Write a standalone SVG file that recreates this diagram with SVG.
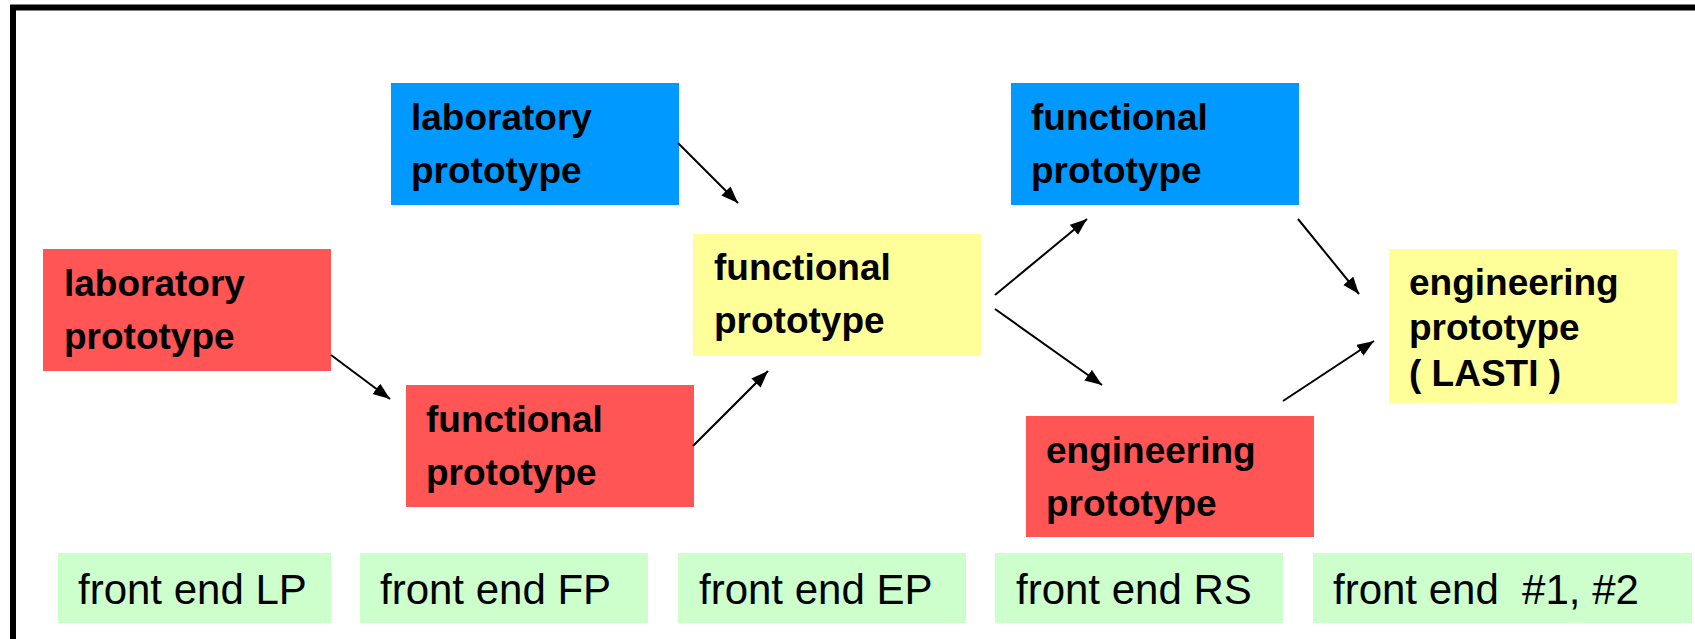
<svg xmlns="http://www.w3.org/2000/svg" width="1695" height="639" viewBox="0 0 1695 639">
<style>
.b{font-family:"Liberation Sans",Arial,sans-serif;font-weight:bold;font-size:37px;fill:#000}
.g{font-family:"Liberation Sans",Arial,sans-serif;font-size:42px;fill:#000;white-space:pre}
.blue{fill:#0099FF}.red{fill:#FF5555}.yel{fill:#FFFF99}.grn{fill:#CCFFCC}
.c{stroke:#000;stroke-width:2;fill:none;marker-end:url(#ah)}
</style>
<defs>
<marker id="ah" markerUnits="userSpaceOnUse" markerWidth="18" markerHeight="14" refX="17" refY="6.5" orient="auto">
<path d="M0,0 L17,6.5 L0,13 z" fill="#000"/>
</marker>
</defs>
<rect x="0" y="0" width="1695" height="639" fill="#fff"/>
<rect x="13" y="7.5" width="1700" height="700" fill="none" stroke="#000" stroke-width="6"/>
<g id="n-blue-lab"><rect class="blue" x="391" y="83" width="288" height="122"/><text class="b" x="411" y="130">laboratory</text><text class="b" x="411" y="183">prototype</text></g>
<g id="n-red-lab"><rect class="red" x="43" y="249" width="288" height="122"/><text class="b" x="64" y="296">laboratory</text><text class="b" x="64" y="349">prototype</text></g>
<g id="n-red-func"><rect class="red" x="406" y="385" width="288" height="122"/><text class="b" x="426" y="432">functional</text><text class="b" x="426" y="485">prototype</text></g>
<g id="n-yel-func"><rect class="yel" x="693" y="234" width="288" height="122"/><text class="b" x="714" y="280">functional</text><text class="b" x="714" y="333">prototype</text></g>
<g id="n-blue-func"><rect class="blue" x="1011" y="83" width="288" height="122"/><text class="b" x="1031" y="130">functional</text><text class="b" x="1031" y="183">prototype</text></g>
<g id="n-red-eng"><rect class="red" x="1026" y="416" width="288" height="121"/><text class="b" x="1046" y="463">engineering</text><text class="b" x="1046" y="516">prototype</text></g>
<g id="n-yel-eng"><rect class="yel" x="1389" y="249" width="288" height="154"/><text class="b" x="1409" y="295">engineering</text><text class="b" x="1409" y="340">prototype</text><text class="b" x="1409" y="386">( LASTI )</text></g>
<g id="fe-lp"><rect class="grn" x="58" y="553" width="273" height="70"/><text class="g" x="78" y="604">front end LP</text></g>
<g id="fe-fp"><rect class="grn" x="360" y="553" width="288" height="70"/><text class="g" x="380" y="604">front end FP</text></g>
<g id="fe-ep"><rect class="grn" x="678" y="553" width="288" height="70"/><text class="g" x="699" y="604">front end EP</text></g>
<g id="fe-rs"><rect class="grn" x="995" y="553" width="288" height="70"/><text class="g" x="1016" y="604">front end RS</text></g>
<g id="fe-12"><rect class="grn" x="1313" y="553" width="379" height="70"/><text class="g" x="1333" y="604" xml:space="preserve">front end  #1, #2</text></g>
<g id="connectors">
<line class="c" x1="678" y1="143" x2="738" y2="203"/>
<line class="c" x1="331" y1="355" x2="390" y2="399"/>
<line class="c" x1="693" y1="446" x2="768" y2="371"/>
<line class="c" x1="995" y1="295" x2="1087" y2="219"/>
<line class="c" x1="995" y1="309" x2="1102" y2="385"/>
<line class="c" x1="1298" y1="219" x2="1359" y2="294"/>
<line class="c" x1="1283" y1="401" x2="1374" y2="341"/>
</g>
</svg>
